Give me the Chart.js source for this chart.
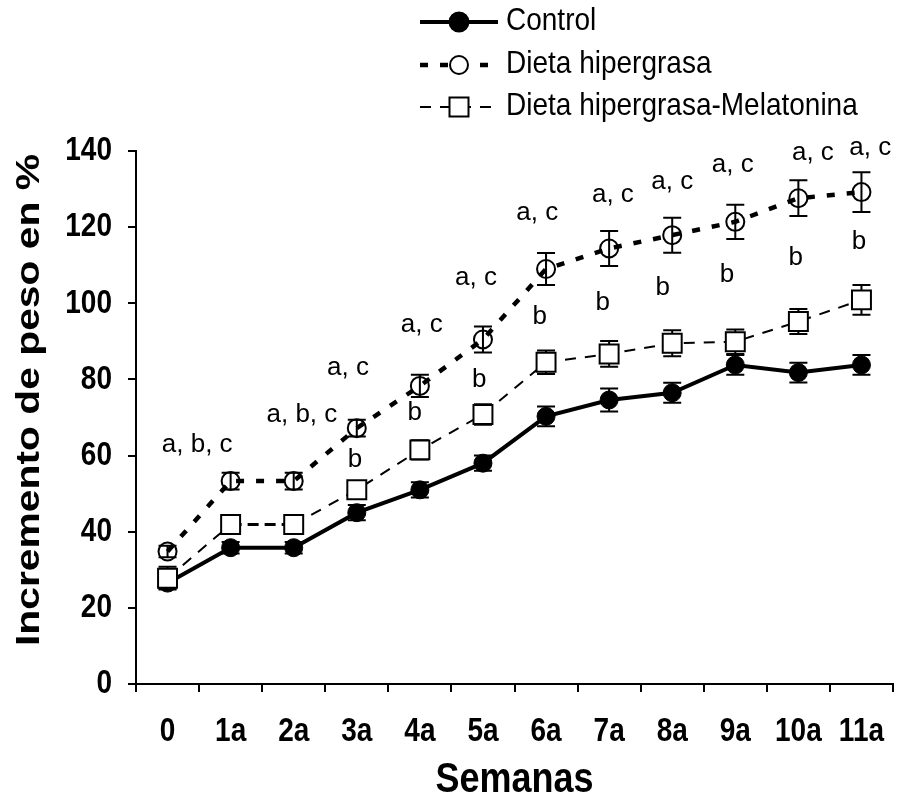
<!DOCTYPE html>
<html lang="es">
<head>
    <meta charset="UTF-8">
    <title>Incremento de peso</title>
    <script src="https://cdn.jsdelivr.net/npm/chart.js"></script>
    <style>
        body { margin: 0; background: #fff; }
        canvas { display: block; }
    </style>
</head>
<body>
    <canvas id="pesoChart" width="898" height="805"></canvas>

    <script>
        // Semanas
        const semanas = ['0', '1a', '2a', '3a', '4a', '5a', '6a', '7a', '8a', '9a', '10a', '11a'];

        // Incremento de peso (%) y error estándar por grupo
        const control = [26.5, 35.8, 35.8, 45.0, 51.0, 58.0, 70.3, 74.6, 76.5, 83.8, 81.8, 83.8];
        const controlErr = [1.5, 1.5, 1.5, 2.0, 2.0, 2.0, 2.6, 3.0, 2.6, 2.6, 2.6, 2.6];
        const hipergrasa = [34.8, 53.3, 53.3, 67.2, 78.3, 90.5, 109.0, 114.4, 117.9, 121.4, 127.6, 129.2];
        const hipergrasaErr = [1.5, 2.2, 2.2, 2.2, 2.9, 3.4, 4.2, 4.6, 4.6, 4.5, 4.7, 5.2];
        const melatonina = [27.8, 41.9, 41.9, 51.0, 61.5, 70.8, 84.5, 86.7, 89.5, 89.9, 95.2, 100.9];
        const melatoninaErr = [3.0, 1.0, 1.0, 1.5, 2.5, 2.7, 3.1, 3.4, 3.4, 3.2, 3.3, 3.9];

        const yTicks = [0, 20, 40, 60, 80, 100, 120, 140];

        // Letras de significación
        const letrasSup = ['a, b, c', 'a, b, c', 'a, c', 'a, c', 'a, c', 'a, c', 'a, c', 'a, c', 'a, c', 'a, c', 'a, c'];
        const letrasSupPos = [[0.47, 62.8], [2.13, 70.7], [2.86, 83.0], [4.03, 94.3], [4.89, 106.6], [5.86, 123.7],
                              [7.06, 128.4], [8.0, 131.9], [8.96, 136.3], [10.23, 139.5], [11.14, 140.8]];
        const letrasInf = ['b', 'b', 'b', 'b', 'b', 'b', 'b', 'b', 'b'];
        const letrasInfPos = [[2.97, 58.8], [3.92, 71.2], [4.94, 79.9], [5.90, 96.4], [6.90, 100.1], [7.85, 104.0],
                              [8.87, 107.4], [9.96, 111.9], [10.96, 116.1]];

        const FONT = "'Liberation Sans', Arial, sans-serif";
        const errores = [controlErr, hipergrasaErr, melatoninaErr];

        // texto estirado en vertical (sy) o a lo largo del texto rotado
        function stretchedText(ctx, text, x, y, sx, sy, rot) {
            ctx.save();
            ctx.translate(x, y);
            if (rot) ctx.rotate(rot);
            ctx.scale(sx, sy);
            ctx.fillText(text, 0, 0);
            ctx.restore();
        }

        // barras de error, dibujadas bajo los marcadores
        const errorBars = {
            id: 'errorBars',
            beforeDatasetsDraw(chart) {
                const ctx = chart.ctx;
                const x = chart.scales.x, y = chart.scales.y;
                ctx.save();
                ctx.strokeStyle = '#000';
                ctx.lineWidth = 2;
                chart.data.datasets.forEach((ds, d) => {
                    ds.data.forEach((v, i) => {
                        const e = errores[d][i];
                        const px = x.getPixelForValue(i);
                        const top = y.getPixelForValue(v + e);
                        const bot = y.getPixelForValue(v - e);
                        ctx.beginPath();
                        ctx.moveTo(px, top); ctx.lineTo(px, bot);
                        ctx.moveTo(px - 9, top); ctx.lineTo(px + 9, top);
                        ctx.moveTo(px - 9, bot); ctx.lineTo(px + 9, bot);
                        ctx.stroke();
                    });
                });
                ctx.restore();
            }
        };

        function marker(ctx, style, cx, cy) {
            ctx.setLineDash([]);
            ctx.lineWidth = 2;
            ctx.strokeStyle = '#000';
            ctx.beginPath();
            if (style === 'rect') {
                ctx.rect(cx - 9.5, cy - 9.5, 19, 19);
                ctx.fillStyle = '#fff';
                ctx.fill();
            } else if (style === 'filled') {
                ctx.arc(cx, cy, 9.5, 0, Math.PI * 2);
                ctx.fillStyle = '#000';
                ctx.fill();
            } else {
                ctx.arc(cx, cy, 9, 0, Math.PI * 2);
                ctx.fillStyle = '#fff';
                ctx.fill();
            }
            ctx.stroke();
        }

        // rótulos de ejes, leyenda y letras
        const extras = {
            id: 'extras',
            afterDraw(chart) {
                const ctx = chart.ctx;
                const x = chart.scales.x, y = chart.scales.y;
                ctx.save();
                ctx.fillStyle = '#000';
                ctx.textBaseline = 'middle';

                // marcas de los ejes
                ctx.font = 'bold 28px ' + FONT;
                ctx.textAlign = 'right';
                yTicks.forEach(v => stretchedText(ctx, String(v), 112, y.getPixelForValue(v), 1, 1.2));
                ctx.textAlign = 'center';
                semanas.forEach((s, i) => stretchedText(ctx, s, x.getPixelForValue(i), 732, 1, 1.2));

                // títulos
                ctx.font = 'bold 36px ' + FONT;
                stretchedText(ctx, 'Semanas', (chart.chartArea.left + chart.chartArea.right) / 2, 780, 1, 1.2);
                ctx.font = 'bold 34px ' + FONT;
                stretchedText(ctx, 'Incremento de peso en %', 30, 400, 1.2, 1, -Math.PI / 2);

                // letras de significación
                ctx.font = '26px ' + FONT;
                letrasSup.forEach((t, i) => {
                    ctx.fillText(t, x.getPixelForValue(letrasSupPos[i][0]), y.getPixelForValue(letrasSupPos[i][1]));
                });
                letrasInf.forEach((t, i) => {
                    ctx.fillText(t, x.getPixelForValue(letrasInfPos[i][0]), y.getPixelForValue(letrasInfPos[i][1]));
                });

                // leyenda
                const rows = [22, 65, 107];
                const marks = ['filled', 'open', 'rect'];
                chart.data.datasets.forEach((ds, d) => {
                    const ry = rows[d];
                    ctx.strokeStyle = '#000';
                    ctx.lineWidth = ds.borderWidth;
                    ctx.setLineDash(ds.borderDash || []);
                    ctx.beginPath();
                    ctx.moveTo(420, ry); ctx.lineTo(498, ry);
                    ctx.stroke();
                    marker(ctx, marks[d], 459, ry);
                    ctx.fillStyle = '#000';
                    ctx.font = '28px ' + FONT;
                    ctx.textAlign = 'left';
                    stretchedText(ctx, ds.label, 506, ry, 1, 1.1);
                });
                ctx.restore();
            }
        };

        // tramos horizontales entre 1a y 2a con trazo más grueso
        const tramoGrueso = (ancho, dash) => ({
            borderWidth: ctx => ctx.p0DataIndex === 1 ? ancho : undefined,
            borderDash: ctx => ctx.p0DataIndex === 1 ? dash : undefined
        });

        new Chart(document.getElementById('pesoChart'), {
            type: 'line',
            data: {
                labels: semanas,
                datasets: [
                    {
                        label: 'Control',
                        data: control,
                        borderColor: '#000',
                        borderWidth: 4,
                        pointStyle: 'circle',
                        pointRadius: 9,
                        pointBorderWidth: 1,
                        pointBackgroundColor: '#000',
                        pointBorderColor: '#000',
                        order: 2
                    },
                    {
                        label: 'Dieta hipergrasa',
                        data: hipergrasa,
                        borderColor: '#000',
                        borderWidth: 4.5,
                        borderDash: [8, 12],
                        pointStyle: 'circle',
                        pointRadius: 9,
                        pointBorderWidth: 2,
                        pointBackgroundColor: 'rgba(0,0,0,0)',
                        pointBorderColor: '#000',
                        order: 1
                    },
                    {
                        label: 'Dieta hipergrasa-Melatonina',
                        data: melatonina,
                        borderColor: '#000',
                        borderWidth: 2,
                        borderDash: [11, 9],
                        segment: tramoGrueso(3, [11, 6]),
                        pointStyle: 'rect',
                        pointRadius: 13.4,
                        pointBorderWidth: 2,
                        pointBackgroundColor: '#fff',
                        pointBorderColor: '#000',
                        order: 0
                    }
                ]
            },
            options: {
                responsive: false,
                animation: false,
                events: [],
                layout: { autoPadding: false, padding: { top: 151, right: 5, left: 0, bottom: 0 } },
                elements: { line: { tension: 0 } },
                plugins: {
                    legend: { display: false },
                    tooltip: { enabled: false }
                },
                scales: {
                    x: {
                        type: 'category',
                        offset: true,
                        afterFit(scale) {
                            scale.height = 121;
                            scale.paddingLeft = 0;
                            scale.paddingRight = 0;
                        },
                        grid: {
                            offset: true,
                            drawOnChartArea: false,
                            drawTicks: true,
                            tickLength: 8,
                            color: '#000',
                            lineWidth: 2
                        },
                        border: { display: true, color: '#000', width: 2 },
                        ticks: { display: false, autoSkip: false, maxRotation: 0 }
                    },
                    y: {
                        min: 0,
                        max: 140,
                        afterFit(scale) {
                            scale.width = 136;
                            scale.paddingTop = 0;
                            scale.paddingBottom = 0;
                        },
                        afterBuildTicks(scale) { scale.ticks = yTicks.map(v => ({ value: v })); },
                        grid: {
                            drawOnChartArea: false,
                            drawTicks: true,
                            tickLength: 8,
                            color: '#000',
                            lineWidth: 2
                        },
                        border: { display: true, color: '#000', width: 2 },
                        ticks: { display: false }
                    }
                }
            },
            plugins: [errorBars, extras]
        });
    </script>
</body>
</html>
